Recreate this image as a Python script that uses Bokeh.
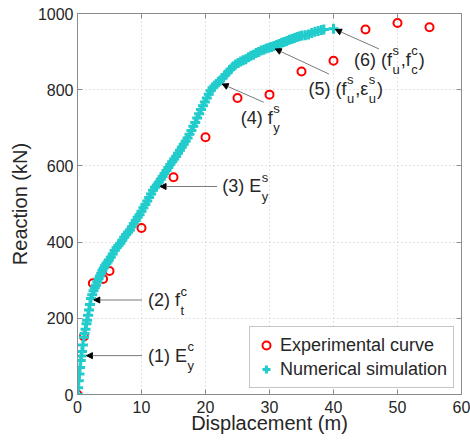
from bokeh.plotting import figure
from bokeh.models import (Legend, LegendItem, Arrow, NormalHead, LinearAxis,
                          FixedTicker, Range1d, ColumnDataSource)
from bokeh.core.properties import value
from bokeh.embed import file_html
from bokeh.resources import INLINE

# ---------------- data ----------------
exp_x = [0, 1, 2.4, 4, 5, 10, 15, 20, 25, 30, 35, 40, 45, 50, 55]
exp_y = [0, 152, 292, 303, 324, 437, 570, 675, 778, 787, 848, 876, 958, 975, 964]

sim_x = [
    0.0, 0.1, 0.2, 0.3, 0.4, 0.5, 0.6, 0.7, 0.85, 1.0,
    1.1, 1.25, 1.4, 1.5, 1.65, 1.8, 1.95, 2.1, 2.3, 2.5,
    2.7, 2.9, 3.1, 3.3, 3.5, 3.7, 3.9, 4.1, 4.3, 4.5,
    4.7, 4.9, 5.2, 5.5, 5.8, 6.1, 6.4, 6.7, 7.0, 7.3,
    7.6, 7.9, 8.2, 8.5, 8.8, 9.1, 9.4, 9.7, 10.0, 10.3,
    10.6, 10.9, 11.2, 11.5, 11.8, 12.1, 12.4, 12.7, 13.0, 13.3,
    13.6, 13.9, 14.2, 14.5, 14.8, 15.1, 15.4, 15.7, 16.0, 16.3,
    16.6, 16.9, 17.2, 17.5, 17.8, 18.1, 18.4, 18.7, 19.0, 19.3,
    19.6, 19.9, 20.2, 20.5, 20.8, 21.1, 21.4, 21.7, 22.0, 22.3,
    22.7, 23.1, 23.5, 23.9, 24.3, 24.7, 25.1, 25.5, 25.9, 26.3,
    26.7, 27.1, 27.5, 27.9, 28.3, 28.7, 29.1, 29.5, 29.9, 30.3,
    30.7, 31.1, 31.5, 31.9, 32.3, 32.7, 33.1, 33.5, 33.9, 34.3,
    34.7, 35.1, 35.6, 36.1, 36.6, 37.1, 37.6, 38.1, 38.5, 40.0]
sim_y = [
    0, 18, 36, 54, 71, 89, 101, 113, 130, 150,
    160, 171, 186, 195, 208, 222, 236, 252, 262, 272,
    280, 287, 296, 304, 311, 318, 326, 332, 338, 343,
    348, 353, 360, 369, 378, 385, 391, 397, 405, 413,
    420, 426, 432, 440, 449, 457, 465, 472, 481, 490,
    499, 508, 517, 526, 536, 544, 550, 557, 565, 572,
    580, 588, 596, 604, 611, 618, 625, 633, 641, 649,
    657, 665, 673, 683, 693, 704, 714, 726, 737, 748,
    758, 768, 778, 788, 797, 805, 810, 815, 820, 824,
    831, 839, 846, 853, 861, 866, 870, 874, 877, 880,
    885, 889, 892, 896, 899, 903, 905, 908, 910, 912,
    915, 917, 920, 923, 925, 928, 931, 933, 936, 938,
    940, 942, 943, 945, 949, 952, 954, 957, 958, 960]

x_ticks = [0, 10, 20, 30, 40, 50, 60]
y_ticks = [0, 200, 400, 600, 800, 1000]

# annotation labels: pieces of (main text, superscript, subscript)
ann_pieces = [
    [("(1) E", "c", "y")],
    [("(2) f", "c", "t")],
    [("(3) E", "s", "y")],
    [("(4) f", "s", "y")],
    [("(5) (f", "s", "u"), (",\u03b5", "s", "u"), (")", None, None)],
    [("(6) (f", "s", "u"), (",f", "c", "c"), (")", None, None)],
]
ann_text_x = [11.0, 11.0, 22.6, 25.5, 36.1, 43.2]
ann_text_y = [102, 248, 546, 727, 802, 878]
ann_tail_x = [10.1, 10.1, 21.8, 29.1, 39.3, 47.1]
ann_tail_y = [102, 248, 546, 767, 841, 907]
ann_tip_x = [1.4, 2.55, 12.9, 22.6, 30.9, 40.3]
ann_tip_y = [102, 248, 546, 815, 907, 958]

# ---------------- styling helpers ----------------
FONT = "Liberation Sans"
TXT = "#262626"
GRAY = "#8c8c8c"
CYAN = "#22CCCC"

ARIAL_W = {"(": 0.333, ")": 0.333, " ": 0.278, ",": 0.278, "E": 0.667, "f": 0.278,
           "s": 0.5, "u": 0.556, "c": 0.5, "y": 0.5, "t": 0.278, "\u03b5": 0.44}


def text_w(s, size):
    return sum(ARIAL_W.get(ch, 0.556) for ch in s) * size


p = figure(width=470, height=441, output_backend="svg", toolbar_location=None,
           x_range=Range1d(0, 60), y_range=Range1d(0, 1000),
           min_border_left=77, min_border_right=9, min_border_top=13, min_border_bottom=47)
p.background_fill_color = "white"
p.border_fill_color = "white"
p.outline_line_color = GRAY
p.outline_line_width = 1

p.xaxis.ticker = FixedTicker(ticks=x_ticks)
p.yaxis.ticker = FixedTicker(ticks=y_ticks)
for ax in (p.xaxis[0], p.yaxis[0]):
    ax.axis_line_color = GRAY
    ax.major_tick_line_color = GRAY
    ax.major_tick_in = 5
    ax.major_tick_out = 0
    ax.minor_tick_line_color = None
    ax.major_label_text_font = FONT
    ax.major_label_text_font_size = "16px"
    ax.major_label_text_color = TXT
    ax.axis_label_text_font = FONT
    ax.axis_label_text_font_size = "20px"
    ax.axis_label_text_font_style = "normal"
    ax.axis_label_text_color = TXT
p.xaxis.axis_label = "Displacement (m)"
p.yaxis.axis_label = "Reaction (kN)"
p.xaxis.major_label_standoff = 6
p.xaxis.axis_label_standoff = -4
p.yaxis.major_label_standoff = 4
p.yaxis.axis_label_standoff = 4

for loc, tk in (("right", y_ticks), ("above", x_ticks)):
    a = LinearAxis(ticker=FixedTicker(ticks=tk), major_label_text_color=None,
                   major_label_text_font_size="10px",
                   major_label_standoff=0, major_tick_in=5, major_tick_out=0,
                   minor_tick_line_color=None, axis_line_color=GRAY,
                   major_tick_line_color=GRAY)
    p.add_layout(a, loc)

p.xgrid.ticker = FixedTicker(ticks=x_ticks)
p.ygrid.ticker = FixedTicker(ticks=y_ticks)
p.grid.grid_line_color = "#c8c8c8"
p.grid.grid_line_dash = "1 3"
p.grid.grid_line_width = 1

r_exp = p.scatter(exp_x, exp_y, marker="circle", size=8, fill_color=None,
                  line_color="red", line_width=2)
r_sim = p.scatter(sim_x, sim_y, marker="cross", size=10, line_color=CYAN, line_width=3)

# annotations: arrows
for i in range(len(ann_pieces)):
    p.add_layout(Arrow(x_start=ann_tail_x[i], y_start=ann_tail_y[i],
                       x_end=ann_tip_x[i], y_end=ann_tip_y[i],
                       line_color="#7a7a7a", line_width=1,
                       end=NormalHead(size=6, fill_color="black", line_color="black")))

# annotations: texts built as main text + superscript/subscript pieces
main = dict(x=[], y=[], t=[], xo=[])
scr = dict(x=[], y=[], t=[], xo=[], yo=[])
for i, pieces in enumerate(ann_pieces):
    cur = 0.0
    for m, sup, sub in pieces:
        main["x"].append(ann_text_x[i]); main["y"].append(ann_text_y[i])
        main["t"].append(m); main["xo"].append(cur)
        cur += text_w(m, 18)
        if sup is not None:
            for s, yo in ((sup, -9), (sub, 10)):
                scr["x"].append(ann_text_x[i]); scr["y"].append(ann_text_y[i])
                scr["t"].append(s); scr["xo"].append(cur + 0.5); scr["yo"].append(yo)
            cur += max(text_w(sup, 13), text_w(sub, 13)) + 1.5

p.text(x="x", y="y", text="t", x_offset="xo", source=ColumnDataSource(main),
       text_font=value(FONT), text_font_size="18px", text_color=TXT,
       text_baseline="middle", text_align="left")
p.text(x="x", y="y", text="t", x_offset="xo", y_offset="yo", source=ColumnDataSource(scr),
       text_font=value(FONT), text_font_size="13px", text_color=TXT,
       text_baseline="middle", text_align="left")

legend = Legend(items=[LegendItem(label="Experimental curve", renderers=[r_exp]),
                       LegendItem(label="Numerical simulation", renderers=[r_sim])],
                location=(172, 6), orientation="vertical",
                label_text_font=FONT, label_text_font_size="18px", label_text_color=TXT,
                glyph_width=20, glyph_height=24, label_height=24, label_standoff=4,
                padding=6, spacing=0, margin=0,
                border_line_color=GRAY, border_line_width=1,
                background_fill_color="white", background_fill_alpha=1)
p.add_layout(legend)

open("out.html", "w").write(file_html(p, INLINE))
